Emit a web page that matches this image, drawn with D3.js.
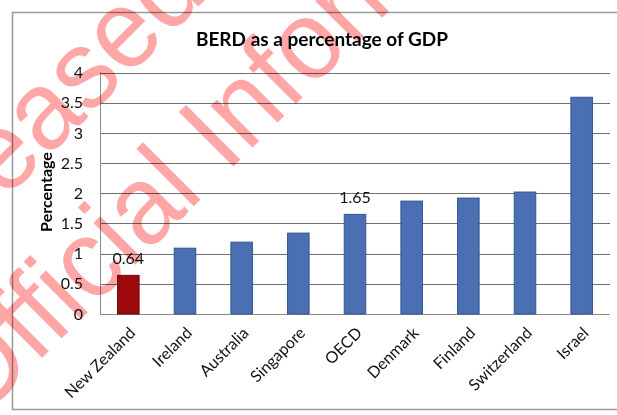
<!DOCTYPE html>
<html>
<head>
<meta charset="utf-8">
<script src="https://cdn.jsdelivr.net/npm/d3@7"></script>
<style>
  body { margin: 0; background: #fff; }
  svg { display: block; font-family: Lato, "Open Sans", sans-serif; }
</style>
</head>
<body>
<div id="chart"></div>
<script>
// values
var countries = ["New Zealand", "Ireland", "Australia", "Singapore", "OECD", "Denmark", "Finland", "Switzerland", "Israel"];
var berd = [0.64, 1.09, 1.19, 1.34, 1.65, 1.87, 1.92, 2.02, 3.59];
var labelled = ["New Zealand", "OECD"];
var highlight = "New Zealand";
var yTicks = [0, 0.5, 1, 1.5, 2, 2.5, 3, 3.5, 4];
var watermark = ["Released under the", "Official Information Act 1982"];

var width = 617, height = 415;

var data = countries.map(function (c, i) {
  return { country: c, value: berd[i] };
});

var svg = d3.select("#chart")
  .append("svg")
  .attr("width", width)
  .attr("height", height);

// outer chart frame
svg.append("rect")
  .attr("x", 12.5)
  .attr("y", 12.5)
  .attr("width", 640)
  .attr("height", 397)
  .attr("fill", "#fff")
  .attr("stroke", "#9a9a9a")
  .attr("stroke-width", 1.5);

var x = d3.scaleBand()
  .domain(countries)
  .range([100, 610])
  .paddingInner(0.62)
  .paddingOuter(0.31);

var y = d3.scaleLinear()
  .domain([0, 4])
  .range([314, 72.5]);

// gridlines
svg.append("g")
  .attr("class", "grid")
  .selectAll("line")
  .data(yTicks)
  .enter().append("line")
  .attr("x1", 100)
  .attr("x2", 610)
  .attr("y1", function (d) { return Math.round(y(d)) + 0.5; })
  .attr("y2", function (d) { return Math.round(y(d)) + 0.5; })
  .attr("stroke", function (d) { return d === 0 ? "#8c8c8c" : "#707070"; })
  .attr("stroke-width", 1.2);

// left axis line
svg.append("line")
  .attr("x1", 100.5)
  .attr("x2", 100.5)
  .attr("y1", y(4))
  .attr("y2", y(0))
  .attr("stroke", "#8c8c8c");

// y tick labels
var yAxis = svg.append("g")
  .attr("transform", "translate(100,0)")
  .call(d3.axisLeft(y)
    .tickValues(yTicks)
    .tickSize(0)
    .tickPadding(17)
    .tickFormat(d3.format("~g")));
yAxis.select(".domain").remove();
yAxis.selectAll("text")
  .attr("font-family", "Lato, sans-serif")
  .attr("font-size", 16)
  .attr("fill", "#111");

// bars
svg.append("g")
  .attr("class", "bars")
  .selectAll("rect")
  .data(data)
  .enter().append("rect")
  .attr("x", function (d) { return x(d.country); })
  .attr("y", function (d) { return y(d.value); })
  .attr("width", x.bandwidth())
  .attr("height", function (d) { return y(0) - y(d.value); })
  .attr("fill", function (d) { return d.country === highlight ? "#9c0a0c" : "#4a6fb2"; })
  .attr("stroke", function (d) { return d.country === highlight ? "#6e0608" : "#36558e"; })
  .attr("stroke-width", 1);

// value labels
svg.append("g")
  .selectAll("text")
  .data(data.filter(function (d) { return labelled.indexOf(d.country) >= 0; }))
  .enter().append("text")
  .attr("x", function (d) { return x(d.country) + x.bandwidth() / 2; })
  .attr("y", function (d) { return y(d.value) - 11; })
  .attr("text-anchor", "middle")
  .attr("font-size", 16)
  .attr("fill", "#111")
  .text(function (d) { return d3.format(".2f")(d.value); });

// category labels
svg.append("g")
  .selectAll("text")
  .data(countries)
  .enter().append("text")
  .attr("transform", function (d) {
    return "translate(" + (x(d) + x.bandwidth() / 2 + 8) + ",334) rotate(-45)";
  })
  .attr("text-anchor", "end")
  .attr("font-size", 16)
  .attr("fill", "#111")
  .text(function (d) { return d; });

// title
svg.append("text")
  .attr("x", 322)
  .attr("y", 46)
  .attr("text-anchor", "middle")
  .attr("font-size", 19)
  .attr("font-weight", "bold")
  .attr("fill", "#000")
  .text("BERD as a percentage of GDP");

// y axis title
svg.append("text")
  .attr("transform", "translate(52,192) rotate(-90)")
  .attr("text-anchor", "middle")
  .attr("font-size", 16)
  .attr("font-weight", "bold")
  .attr("fill", "#000")
  .text("Percentage");

// release stamp across the page
var stamp = svg.append("g")
  .style("mix-blend-mode", "multiply")
  .attr("font-family", "Liberation Sans, Arial, sans-serif")
  .attr("font-size", 112)
  .attr("fill", "#ffa6a6");

var stampStart = [[-108, 313], [-23, 423]];
stamp.selectAll("text")
  .data(watermark)
  .enter().append("text")
  .attr("transform", function (d, i) {
    return "translate(" + stampStart[i][0] + "," + stampStart[i][1] + ") rotate(-45) scale(0.95,1)";
  })
  .text(function (d) { return d; });
</script>
</body>
</html>
